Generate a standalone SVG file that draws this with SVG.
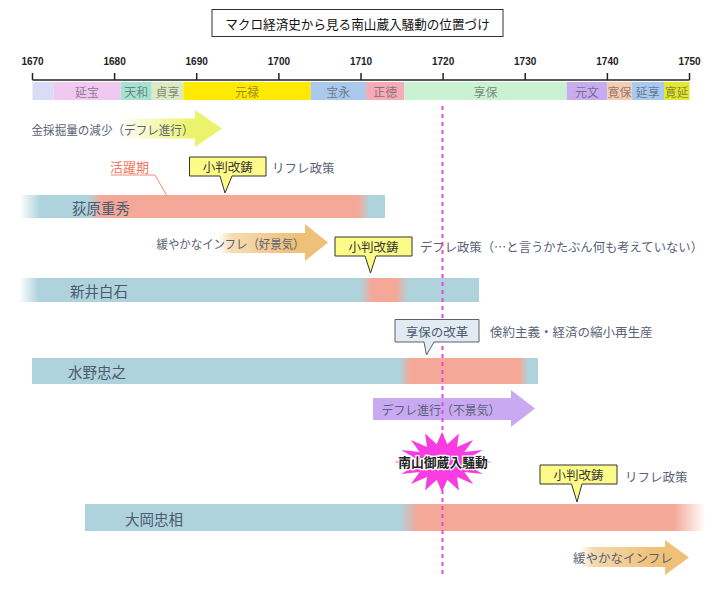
<svg xmlns="http://www.w3.org/2000/svg" width="720" height="599" viewBox="0 0 720 599">
<defs>
<style>
text{font-family:"Noto Sans CJK JP","Noto Sans",sans-serif;dominant-baseline:central}
.yr{font-family:"Liberation Sans",Arial,sans-serif;font-size:10px;font-weight:bold;fill:#222;text-anchor:middle}
.era{font-size:12px;fill:#333;fill-opacity:0.55;text-anchor:middle}
.lbl{font-size:12.5px;fill:#5a6275}
.name{font-size:14.5px;fill:#4c5a70}
.co{font-size:12.5px;fill:#333;text-anchor:middle}
.yc{fill:#fdfb88;stroke:#333;stroke-width:1}
.tick{stroke:#222;stroke-width:1.5}
</style>
<linearGradient id="gB1" gradientUnits="userSpaceOnUse" x1="0" y1="0" x2="385" y2="0">
<stop offset="0" stop-color="#aed3dc" stop-opacity="0"/>
<stop offset="0.05" stop-color="#aed3dc" stop-opacity="0"/>
<stop offset="0.105" stop-color="#aed3dc"/>
<stop offset="0.23" stop-color="#aed3dc"/>
<stop offset="0.265" stop-color="#f4a898"/>
<stop offset="0.93" stop-color="#f4a898"/>
<stop offset="0.96" stop-color="#aed3dc"/>
<stop offset="1" stop-color="#aed3dc"/>
</linearGradient>
<linearGradient id="gB2" gradientUnits="userSpaceOnUse" x1="0" y1="0" x2="479" y2="0">
<stop offset="0" stop-color="#aed3dc" stop-opacity="0"/>
<stop offset="0.04" stop-color="#aed3dc" stop-opacity="0"/>
<stop offset="0.08" stop-color="#aed3dc"/>
<stop offset="0.752" stop-color="#aed3dc"/>
<stop offset="0.777" stop-color="#f4a898"/>
<stop offset="0.827" stop-color="#f4a898"/>
<stop offset="0.852" stop-color="#aed3dc"/>
<stop offset="1" stop-color="#aed3dc"/>
</linearGradient>
<linearGradient id="gB3" gradientUnits="userSpaceOnUse" x1="32" y1="0" x2="538" y2="0">
<stop offset="0" stop-color="#aed3dc"/>
<stop offset="0.727" stop-color="#aed3dc"/>
<stop offset="0.747" stop-color="#f4a898"/>
<stop offset="0.964" stop-color="#f4a898"/>
<stop offset="0.98" stop-color="#aed3dc"/>
<stop offset="1" stop-color="#aed3dc"/>
</linearGradient>
<linearGradient id="gB4" gradientUnits="userSpaceOnUse" x1="85" y1="0" x2="705" y2="0">
<stop offset="0" stop-color="#aed3dc"/>
<stop offset="0.508" stop-color="#aed3dc"/>
<stop offset="0.537" stop-color="#f4a898"/>
<stop offset="0.95" stop-color="#f4a898"/>
<stop offset="1" stop-color="#f4a898" stop-opacity="0"/>
</linearGradient>
<linearGradient id="gA1" gradientUnits="userSpaceOnUse" x1="120" y1="0" x2="222" y2="0">
<stop offset="0" stop-color="#ebf36a" stop-opacity="0"/>
<stop offset="0.7" stop-color="#ebf36a"/>
<stop offset="1" stop-color="#ebf36a"/>
</linearGradient>
<linearGradient id="gA2" gradientUnits="userSpaceOnUse" x1="218" y1="0" x2="328" y2="0">
<stop offset="0" stop-color="#efc077" stop-opacity="0"/>
<stop offset="0.12" stop-color="#efc077" stop-opacity="0.55"/>
<stop offset="0.7" stop-color="#efc077"/>
<stop offset="1" stop-color="#efc077"/>
</linearGradient>
<linearGradient id="gA4" gradientUnits="userSpaceOnUse" x1="580" y1="0" x2="689" y2="0">
<stop offset="0" stop-color="#efc077" stop-opacity="0"/>
<stop offset="0.12" stop-color="#efc077" stop-opacity="0.6"/>
<stop offset="0.7" stop-color="#efc077"/>
<stop offset="1" stop-color="#efc077"/>
</linearGradient>
</defs>
<rect width="720" height="599" fill="#fff"/>

<g id="title">
<rect x="212" y="9.5" width="291" height="27" fill="#fff" stroke="#333" stroke-width="1"/>
<text x="357.5" y="23" font-size="12.6" fill="#111" text-anchor="middle">マクロ経済史から見る南山蔵入騒動の位置づけ</text>
</g>

<g id="axis">
<line x1="32.5" y1="80" x2="689.5" y2="80" class="tick"/>
<line x1="32.5" y1="73" x2="32.5" y2="80" class="tick"/>
<line x1="114.6" y1="73" x2="114.6" y2="80" class="tick"/>
<line x1="196.7" y1="73" x2="196.7" y2="80" class="tick"/>
<line x1="278.9" y1="73" x2="278.9" y2="80" class="tick"/>
<line x1="361" y1="73" x2="361" y2="80" class="tick"/>
<line x1="443.1" y1="73" x2="443.1" y2="80" class="tick"/>
<line x1="525.2" y1="73" x2="525.2" y2="80" class="tick"/>
<line x1="607.4" y1="73" x2="607.4" y2="80" class="tick"/>
<line x1="689.5" y1="73" x2="689.5" y2="80" class="tick"/>
<text x="32.5" y="61" class="yr">1670</text>
<text x="114.6" y="61" class="yr">1680</text>
<text x="196.7" y="61" class="yr">1690</text>
<text x="278.9" y="61" class="yr">1700</text>
<text x="361" y="61" class="yr">1710</text>
<text x="443.1" y="61" class="yr">1720</text>
<text x="525.2" y="61" class="yr">1730</text>
<text x="607.4" y="61" class="yr">1740</text>
<text x="689.5" y="61" class="yr">1750</text>
</g>

<g id="eras">
<rect x="32.5" y="82" width="21" height="18" fill="#d8dcf6"/>
<rect x="53.5" y="82" width="67.2" height="18" fill="#f0c8f2"/>
<rect x="120.7" y="82" width="31" height="18" fill="#a6e2d2"/>
<rect x="151.7" y="82" width="31.6" height="18" fill="#dbe9c4"/>
<rect x="183.3" y="82" width="127.4" height="18" fill="#ffe900"/>
<rect x="310.7" y="82" width="55.3" height="18" fill="#abc9ec"/>
<rect x="366" y="82" width="38.3" height="18" fill="#f3acb8"/>
<rect x="404.3" y="82" width="162.4" height="18" fill="#c9f1d2"/>
<rect x="566.7" y="82" width="40.6" height="18" fill="#c8acf0"/>
<rect x="607.3" y="82" width="24.4" height="18" fill="#f8cbb4"/>
<rect x="631.7" y="82" width="32.3" height="18" fill="#a9c9f0"/>
<rect x="664" y="82" width="25.5" height="18" fill="#e3e833"/>
<text x="87" y="91" class="era">延宝</text>
<text x="136.2" y="91" class="era">天和</text>
<text x="167.5" y="91" class="era">貞享</text>
<text x="247" y="91" class="era">元禄</text>
<text x="338.3" y="91" class="era">宝永</text>
<text x="385.2" y="91" class="era">正徳</text>
<text x="485.5" y="91" class="era">享保</text>
<text x="587" y="91" class="era">元文</text>
<text x="619.5" y="91" class="era">寛保</text>
<text x="647.8" y="91" class="era">延享</text>
<text x="676.7" y="91" class="era">寛延</text>
</g>

<g id="arrow-deflation1">
<path d="M120,118.5 H195 V110 L222,128.5 L195,147 V138.5 H120 Z" fill="url(#gA1)"/>
<text x="31.5" y="129" class="lbl" textLength="162" lengthAdjust="spacingAndGlyphs">金採掘量の減少（デフレ進行）</text>
</g>

<g id="label-katsuyaku">
<text x="110" y="166.5" font-size="13" fill="#f07860">活躍期</text>
</g>

<g id="callout-kaichu1">
<path d="M189.5,157 H266 V176 H232 L225,193 L220,176 H189.5 Z" class="yc"/>
<text x="227.7" y="166.5" class="co">小判改鋳</text>
<text x="272" y="167" class="lbl">リフレ政策</text>
</g>

<g id="bar-ogiwara">
<rect x="0" y="195" width="385" height="23" fill="url(#gB1)"/>
<text x="72" y="207" class="name">荻原重秀</text>
</g>

<g id="arrow-inflation1">
<path d="M218,233 H305 V224 L328,242.5 L305,261 V253 H218 Z" fill="url(#gA2)"/>
<text x="156.5" y="243" class="lbl" textLength="148" lengthAdjust="spacingAndGlyphs">緩やかなインフレ（好景気）</text>
</g>

<g id="callout-kaichu2">
<path d="M335,237 H412 V256 H376 L370.5,273 L365,256 H335 Z" class="yc"/>
<text x="373.5" y="246.5" class="co">小判改鋳</text>
<text x="420" y="246.5" class="lbl" textLength="283" lengthAdjust="spacingAndGlyphs">デフレ政策（…と言うかたぶん何も考えていない）</text>
</g>

<g id="bar-arai">
<rect x="0" y="278" width="479" height="24" fill="url(#gB2)"/>
<text x="70" y="290.5" class="name">新井白石</text>
</g>

<g id="bar-mizuno">
<rect x="32" y="358" width="506" height="26" fill="url(#gB3)"/>
<text x="68" y="371.5" class="name">水野忠之</text>
</g>

<g id="arrow-deflation2">
<path d="M373,398 H511 V390 L535,408.5 L511,427 V420 H373 Z" fill="#c9aaf2"/>
<text x="381.5" y="409" class="lbl" textLength="119" lengthAdjust="spacingAndGlyphs">デフレ進行（不景気）</text>
</g>

<g id="callout-kaichu3">
<path d="M540,465 H617 V484 H582 L577,502 L571.5,484 H540 Z" class="yc"/>
<text x="578.5" y="474.5" class="co">小判改鋳</text>
<text x="625" y="476" class="lbl">リフレ政策</text>
</g>

<g id="bar-ooka">
<rect x="85" y="504" width="620" height="27" fill="url(#gB4)"/>
<text x="125" y="518" class="name">大岡忠相</text>
</g>

<g id="arrow-inflation2">
<path d="M580,547 H665 V540 L689,557.5 L665,575 V567 H580 Z" fill="url(#gA4)"/>
<text x="573" y="557.5" class="lbl">緩やかなインフレ</text>
</g>

<g id="connectors">
<line x1="442.5" y1="106" x2="442.5" y2="577" stroke="#ee44dd" stroke-width="2" stroke-dasharray="4 4"/>
<polyline points="111,175 155,175 167,196" fill="none" stroke="#f08a70" stroke-width="1"/>
</g>

<g id="callout-kyoho">
<path d="M395,319.5 H479 V342 H434 L426.5,355 L424,342 H395 Z" fill="#e2eaf2" stroke="#5a6070" stroke-width="1"/>
<text x="437" y="331" class="co" style="fill:#4c5a70">享保の改革</text>
<text x="490" y="331.5" class="lbl">倹約主義・経済の縮小再生産</text>
</g>

<g id="starburst">
<polygon points="492,462 468.5,465.5 482.7,473.9 464.4,472 473.1,483.9 457,477 458.9,490.6 447.3,479.7 442,492 436.7,479.7 425.1,490.6 427,477 410.9,483.9 419.6,472 401.3,473.9 415.5,465.5 394,462 415.5,458.5 401.3,450.1 419.6,452 410.9,440.1 427,447 425.1,433.4 436.7,444.3 442,432 447.3,444.3 458.9,433.4 457,447 473.1,440.1 464.4,452 482.7,450.1 468.5,458.5" fill="#f83ce2"/>
<text x="443" y="461.5" font-size="12.8" font-weight="bold" fill="#222" stroke="#fff" stroke-width="2.5" paint-order="stroke" text-anchor="middle">南山御蔵入騒動</text>
</g>
</svg>
